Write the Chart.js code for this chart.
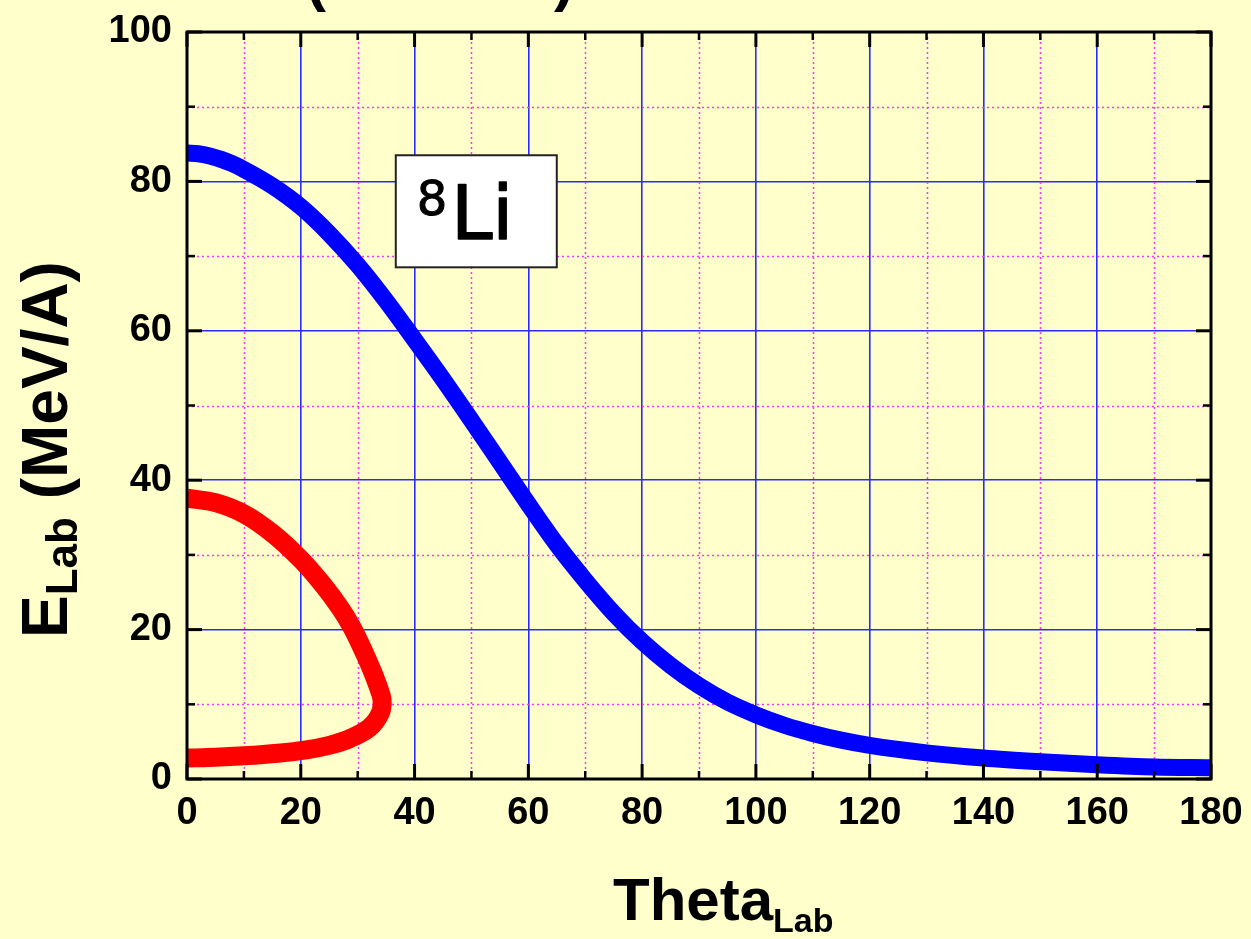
<!DOCTYPE html>
<html>
<head>
<meta charset="utf-8">
<script src="https://cdn.jsdelivr.net/npm/chart.js@4/dist/chart.umd.min.js"></script>
<style>
  html, body { margin: 0; padding: 0; background: #ffffcc; }
  #wrap { width: 1251px; height: 939px; }
</style>
</head>
<body>
<div id="wrap"><canvas id="c" width="1251" height="939"></canvas></div>
<script>
// Lab-frame kinematics of the reaction products: energy per nucleon vs. lab angle.
const blueTheta = [0, 2, 4, 6, 8, 10, 15, 20, 25, 30, 35, 40, 45, 50, 55, 60, 65, 70, 75, 80, 85, 90, 95, 100, 105, 110, 115, 120, 130, 140, 150, 160, 170, 180];
const blueE     = [83.8, 83.7, 83.4, 82.95, 82.35, 81.6, 79.4, 76.6, 73.0, 68.8, 64.0, 58.8, 53.5, 48.0, 42.4, 36.8, 31.4, 26.6, 22.2, 18.4, 15.2, 12.5, 10.3, 8.6, 7.2, 6.1, 5.2, 4.5, 3.5, 2.8, 2.3, 1.9, 1.6, 1.5];

// Second product: double-valued branch with a maximum lab angle
const redTheta = [0, 5, 10, 15, 20, 24, 27, 29, 30.5, 31.7, 32.7, 33.5, 34.0, 34.25, 34.3, 34.15, 33.7, 33.0, 32.1, 31.0, 29.6, 27.8, 25.0, 21.0, 16.0, 10.0, 5.0, 0];
const redE     = [37.6, 37.0, 35.5, 32.9, 29.4, 25.9, 22.8, 20.3, 18.0, 16.0, 14.2, 12.6, 11.5, 10.8, 10.0, 9.2, 8.4, 7.6, 6.9, 6.3, 5.75, 5.15, 4.5, 3.9, 3.45, 3.1, 2.9, 2.8];

const xTickStep = 20, yTickStep = 20;
const xRange = [0, 180], yRange = [0, 100];

const nucleusMass = '8';
const nucleusName = 'Li';

function toPoints(xs, ys) { return xs.map((x, i) => ({ x, y: ys[i] })); }

// Background, dotted minor grid, framed box with inward ticks, titles and label box
const decorations = {
  id: 'decorations',
  beforeDraw(chart) {
    const ctx = chart.ctx;
    ctx.save();
    ctx.fillStyle = '#ffffcc';
    ctx.fillRect(0, 0, chart.width, chart.height);
    ctx.restore();
  },
  beforeDatasetsDraw(chart) {
    const { ctx, chartArea: a, scales: { x, y } } = chart;
    ctx.save();
    ctx.strokeStyle = '#ff33ff';
    ctx.lineWidth = 1.5;
    ctx.setLineDash([2, 3]);
    for (let v = xRange[0] + 10; v < xRange[1]; v += 20) {
      const px = Math.round(x.getPixelForValue(v)) + 0.5;
      ctx.beginPath(); ctx.moveTo(px, a.top); ctx.lineTo(px, a.bottom); ctx.stroke();
    }
    for (let v = yRange[0] + 10; v < yRange[1]; v += 20) {
      const py = Math.round(y.getPixelForValue(v)) + 0.5;
      ctx.beginPath(); ctx.moveTo(a.left, py); ctx.lineTo(a.right, py); ctx.stroke();
    }
    ctx.restore();
  },
  afterDatasetsDraw(chart) {
    const { ctx, chartArea: a, scales: { x, y } } = chart;
    ctx.save();
    // inward ticks on all four sides
    ctx.strokeStyle = '#000';
    for (let v = xRange[0]; v <= xRange[1]; v += 10) {
      const major = v % 20 === 0;
      const len = major ? 15 : 8;
      ctx.lineWidth = major ? 3 : 2.5;
      const px = x.getPixelForValue(v);
      ctx.beginPath(); ctx.moveTo(px, a.bottom); ctx.lineTo(px, a.bottom - len); ctx.stroke();
      ctx.beginPath(); ctx.moveTo(px, a.top); ctx.lineTo(px, a.top + len); ctx.stroke();
    }
    for (let v = yRange[0]; v <= yRange[1]; v += 10) {
      const major = v % 20 === 0;
      const len = major ? 15 : 8;
      ctx.lineWidth = major ? 3 : 2.5;
      const py = y.getPixelForValue(v);
      ctx.beginPath(); ctx.moveTo(a.left, py); ctx.lineTo(a.left + len, py); ctx.stroke();
      ctx.beginPath(); ctx.moveTo(a.right, py); ctx.lineTo(a.right - len, py); ctx.stroke();
    }
    // frame
    ctx.lineWidth = 3;
    ctx.strokeRect(a.left, a.top, a.right - a.left, a.bottom - a.top);

    // nucleus label box
    const bx0 = x.getPixelForValue(36.7), bx1 = x.getPixelForValue(65.0);
    const by0 = y.getPixelForValue(83.5), by1 = y.getPixelForValue(68.5);
    ctx.fillStyle = '#ffffff';
    ctx.fillRect(bx0, by0, bx1 - bx0, by1 - by0);
    ctx.strokeStyle = '#222';
    ctx.lineWidth = 2;
    ctx.strokeRect(bx0, by0, bx1 - bx0, by1 - by0);
    ctx.fillStyle = '#000';
    ctx.strokeStyle = '#000';
    ctx.lineJoin = 'round';
    ctx.textAlign = 'left';
    ctx.textBaseline = 'alphabetic';
    ctx.font = '48px "DejaVu Sans", sans-serif';
    ctx.lineWidth = 1;
    ctx.fillText(nucleusMass, bx0 + 21, by0 + 60);
    ctx.strokeText(nucleusMass, bx0 + 21, by0 + 60);
    const wm = ctx.measureText(nucleusMass).width;
    ctx.font = '74px "DejaVu Sans", sans-serif';
    ctx.lineWidth = 1.6;
    ctx.fillText(nucleusName, bx0 + 25 + wm, by0 + 84);
    ctx.strokeText(nucleusName, bx0 + 25 + wm, by0 + 84);

    // x-axis title with subscript
    ctx.font = 'bold 60px "Liberation Sans", Arial, sans-serif';
    ctx.fillText('Theta', 613, 920);
    const wt = ctx.measureText('Theta').width;
    ctx.font = 'bold 34px "Liberation Sans", Arial, sans-serif';
    ctx.fillText('Lab', 613 + wt, 932);

    // y-axis title, rotated, with subscript
    ctx.translate(67, 638);
    ctx.rotate(-Math.PI / 2);
    ctx.font = 'bold 64px "Liberation Sans", Arial, sans-serif';
    ctx.fillText('E', 0, 0);
    const we = ctx.measureText('E').width;
    ctx.font = 'bold 44px "Liberation Sans", Arial, sans-serif';
    ctx.fillText('Lab', we, 10);
    const wl = ctx.measureText('Lab').width;
    ctx.font = 'bold 64px "Liberation Sans", Arial, sans-serif';
    ctx.fillText(' (MeV/A)', we + wl, 0);
    ctx.restore();

    // heading line running off the top edge
    ctx.save();
    ctx.fillStyle = '#000';
    ctx.font = 'bold 60px "Liberation Sans", Arial, sans-serif';
    ctx.textBaseline = 'alphabetic';
    ctx.fillText('(', 306, 0);
    ctx.fillText(')', 554, 0);
    ctx.restore();
  }
};

new Chart(document.getElementById('c'), {
  type: 'scatter',
  data: {
    datasets: [
      {
        data: toPoints(redTheta, redE),
        showLine: true,
        borderColor: '#ff0000',
        backgroundColor: '#ff0000',
        borderWidth: 19,
        pointRadius: 0,
        tension: 0.3,
        borderCapStyle: 'butt',
        borderJoinStyle: 'round'
      },
      {
        data: toPoints(blueTheta, blueE),
        showLine: true,
        borderColor: '#0000ff',
        backgroundColor: '#0000ff',
        borderWidth: 17,
        pointRadius: 0,
        cubicInterpolationMode: 'monotone',
        borderCapStyle: 'butt',
        borderJoinStyle: 'round'
      }
    ]
  },
  options: {
    responsive: false,
    devicePixelRatio: 1,
    animation: false,
    layout: { padding: { left: 0, top: 32, right: 40, bottom: 0 } },
    plugins: { legend: { display: false }, tooltip: { enabled: false } },
    scales: {
      x: {
        type: 'linear',
        min: xRange[0], max: xRange[1],
        afterFit(s) { s.height = 160; s.paddingLeft = 0; s.paddingRight = 0; },
        border: { display: false },
        grid: { color: '#2a2aff', lineWidth: 1.6, drawTicks: false },
        ticks: {
          stepSize: xTickStep, autoSkip: false, maxRotation: 0,
          color: '#000', padding: 12,
          font: { family: '"Liberation Sans", Arial, sans-serif', size: 38, weight: 'bold' }
        }
      },
      y: {
        type: 'linear',
        min: yRange[0], max: yRange[1],
        afterFit(s) { s.width = 187; s.paddingTop = 0; s.paddingBottom = 0; },
        border: { display: false },
        grid: { color: '#2a2aff', lineWidth: 1.6, drawTicks: false },
        ticks: {
          stepSize: yTickStep, color: '#000', padding: 15,
          font: { family: '"Liberation Sans", Arial, sans-serif', size: 38, weight: 'bold' }
        }
      }
    }
  },
  plugins: [decorations]
});
</script>
</body>
</html>
